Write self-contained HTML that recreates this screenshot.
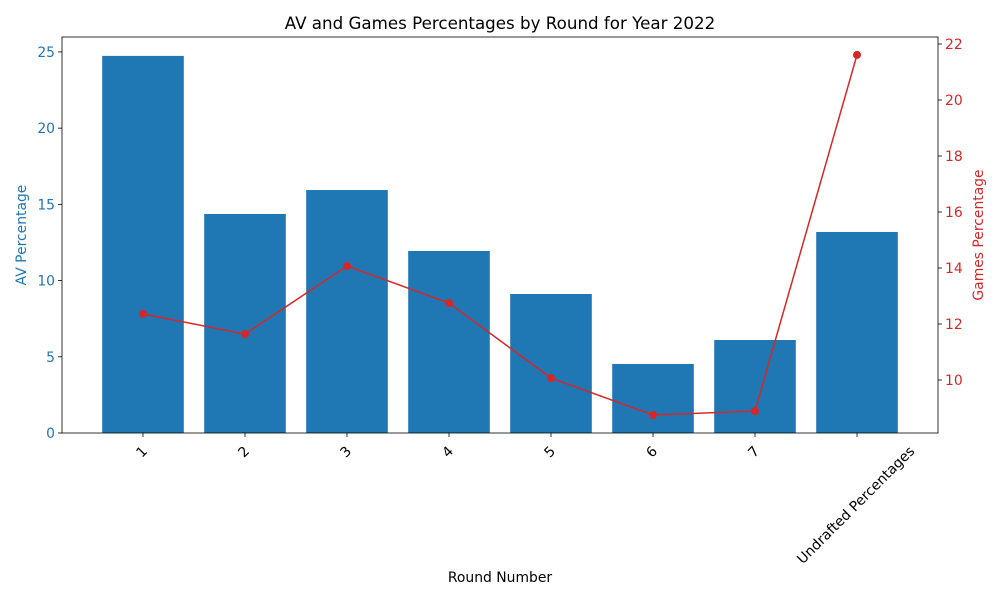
<!DOCTYPE html>
<html><head><meta charset="utf-8"><style>
body{margin:0;background:#fff;font-family:"Liberation Sans","DejaVu Sans",sans-serif;}
svg text{font-family:"DejaVu Sans","Liberation Sans",sans-serif;}
</style></head><body>
<svg id="chart" width="1000" height="600" xmlns="http://www.w3.org/2000/svg"></svg>
<script>
const categories=["1","2","3","4","5","6","7","Undrafted Percentages"];
const avValues=[24.74,14.37,15.94,11.94,9.12,4.53,6.10,13.19];
const gamesValues=[12.36,11.64,14.07,12.75,10.07,8.75,8.89,21.61];
const leftTicks=[0,5,10,15,20,25];
const rightTicks=[10,12,14,16,18,20,22];

const NS="http://www.w3.org/2000/svg";
const svg=document.getElementById('chart');
const L=62,R=938,T=37,B=433;
const xMin=-0.794,xMax=7.794;
const yL0=0,yL1=25.98;
const yR0=8.107,yR1=22.25;
const FS=13.9;
const xs=i=>L+(i-xMin)/(xMax-xMin)*(R-L);
const yl=v=>B-(v-yL0)/(yL1-yL0)*(B-T);
const yr=v=>B-(v-yR0)/(yR1-yR0)*(B-T);
function mk(tag,attrs,parent){const e=document.createElementNS(NS,tag);for(const k in attrs)e.setAttribute(k,attrs[k]);(parent||svg).appendChild(e);return e;}

const title=mk('text',{x:500,y:29,'text-anchor':'middle','font-size':16.7,fill:'#000'});


title.textContent="AV and Games Percentages by Round for Year 2022";

const bw=0.8*(xs(1)-xs(0));
categories.forEach((c,i)=>{
  const b=mk('rect',{x:xs(i)-bw/2,y:yl(avValues[i]),width:bw,height:yl(0)-yl(avValues[i]),fill:'#1f77b4'});
  
  
  mk('line',{x1:xs(i),x2:xs(i),y1:B,y2:B+4,stroke:'#000','stroke-width':0.8});
  const t=mk('text',{x:0,y:0,'text-anchor':'end','font-size':FS,fill:'#000'});
  
  
  t.textContent=c;
  const len=t.getComputedTextLength();
  const ex=xs(i)+len*0.3536+2, ey=B+19;
  t.setAttribute('x',ex);t.setAttribute('y',ey);
  t.setAttribute('transform',`rotate(-45 ${ex} ${ey})`);
});

const pts=gamesValues.map((v,i)=>xs(i)+','+yr(v)).join(' ');
const line=mk('polyline',{points:pts,fill:'none',stroke:'#d62728','stroke-width':1.5});


gamesValues.forEach((v,i)=>{
  const p=mk('circle',{cx:xs(i),cy:yr(v),r:4,fill:'#d62728'});
  
  
});

mk('rect',{x:L,y:T,width:R-L,height:B-T,fill:'none',stroke:'#000','stroke-width':0.8});

leftTicks.forEach(v=>{
  mk('line',{x1:L-4,x2:L,y1:yl(v),y2:yl(v),stroke:'#000','stroke-width':0.8});
  const t=mk('text',{x:L-7,y:yl(v)+5,'text-anchor':'end','font-size':FS,fill:'#1f77b4'});
  
  
  t.textContent=v;
});
rightTicks.forEach(v=>{
  mk('line',{x1:R,x2:R+4,y1:yr(v),y2:yr(v),stroke:'#000','stroke-width':0.8});
  const t=mk('text',{x:R+7,y:yr(v)+5,'text-anchor':'start','font-size':FS,fill:'#d62728'});
  
  
  t.textContent=v;
});

const xl=mk('text',{x:500,y:582,'text-anchor':'middle','font-size':FS,fill:'#000'});


xl.textContent="Round Number";
const yL=mk('text',{x:26,y:235,'text-anchor':'middle','font-size':FS,fill:'#1f77b4',transform:'rotate(-90 26 235)'});


yL.textContent="AV Percentage";
const yR=mk('text',{x:983,y:235,'text-anchor':'middle','font-size':FS,fill:'#d62728',transform:'rotate(-90 983 235)'});


yR.textContent="Games Percentage";
</script>
</body></html>
